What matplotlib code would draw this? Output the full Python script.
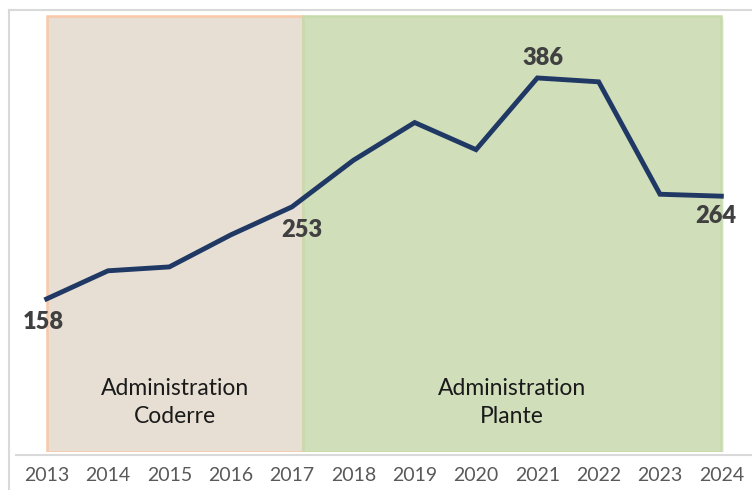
import numpy as np
import matplotlib.pyplot as plt
from matplotlib.patches import Rectangle
from matplotlib.lines import Line2D

years = [2013, 2014, 2015, 2016, 2017, 2018, 2019, 2020, 2021, 2022, 2023, 2024]
values = [158, 187, 191, 224, 253, 301, 340, 312, 386, 382, 266, 264]
labeled = {2013: 158, 2017: 253, 2021: 386, 2024: 264}
periods = [("Administration\nCoderre", 2013, 2017.18), ("Administration\nPlante", 2017.18, 2024)]

plt.rcParams['font.family'] = ['Lato', 'DejaVu Sans']

fig = plt.figure(figsize=(7.52, 4.90), dpi=100)
W, H = 752, 490
# axes: x 16..752 px, y 14..452 px
ax = fig.add_axes([16 / W, 1 - 452 / H, (752 - 16) / W, (452 - 14) / H])
ax.set_xlim(2012.5, 2024.5)
ax.set_ylim(0, 452)

# outer frame of the chart area
fig.add_artist(Line2D([9 / W, 9 / W], [0, 1 - 10 / H], transform=fig.transFigure, color='#d9d9d9', lw=1.5))
fig.add_artist(Line2D([9 / W, 1], [1 - 10 / H, 1 - 10 / H], transform=fig.transFigure, color='#d9d9d9', lw=1.5))

# shaded periods
styles = [dict(fc='#e7dfd4', ec='#f8c8a8'), dict(fc='#d0deba', ec='#c6dbab')]
for (name, x0, x1), st in zip(periods, styles):
    # soft shadow
    ax.add_patch(Rectangle((x0 + 0.04, -3), x1 - x0, 450, fc='#000000', alpha=0.06, ec='none', zorder=1))
    ax.add_patch(Rectangle((x0, 0), x1 - x0, 450, lw=1.8, zorder=2, **st))
    ax.text((x0 + x1) / 2, 51, name, ha='center', va='center', fontsize=16.5,
            color='#1a1a1a', linespacing=1.4, zorder=4)

ax.plot(years, values, color='#1f3864', lw=3.5, solid_joinstyle='miter', zorder=5)

offsets = {2013: (-3, -23), 2017: (10, -23), 2021: (6, 20), 2024: (-6, -20)}
for yr, v in labeled.items():
    dx, dy = offsets[yr]
    ax.annotate(str(v), (yr, v), xytext=(dx * 0.72, dy * 0.72), textcoords='offset points',
                ha='center', va='center', fontsize=17, fontweight='heavy', color='#404040', zorder=6)

for s in ['top', 'right', 'left']:
    ax.spines[s].set_visible(False)
ax.spines['bottom'].set_color('#d9d9d9')
ax.spines['bottom'].set_linewidth(1.5)
ax.spines['bottom'].set_position(('outward', 2))
ax.set_yticks([])
ax.set_xticks(years)
ax.set_xticklabels([str(y) for y in years], fontsize=14, color='#595959')
ax.tick_params(axis='x', length=0, pad=9)

fig.savefig('out.png', dpi=100)
